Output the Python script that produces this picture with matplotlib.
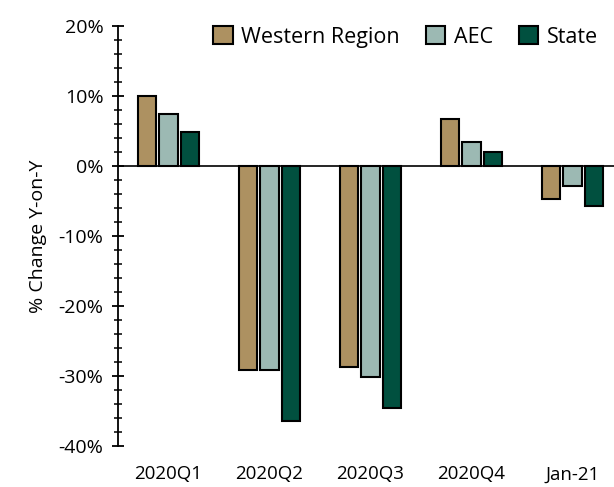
import matplotlib.pyplot as plt
import numpy as np
from matplotlib.ticker import MultipleLocator, FuncFormatter

# Dữ liệu
periods = ['2020Q1', '2020Q2', '2020Q3', '2020Q4', 'Jan-21']
western = [10.0, -29.1, -28.7, 6.7, -4.7]
aec = [7.4, -29.1, -30.1, 3.5, -2.8]
state = [4.8, -36.4, -34.5, 2.0, -5.7]

series = [('Western Region', western, '#AD9161'),
          ('AEC', aec, '#9CB9B3'),
          ('State', state, '#01503F')]

plt.rcParams['font.family'] = ['Open Sans', 'DejaVu Sans']
plt.rcParams['axes.unicode_minus'] = False

fig = plt.figure(figsize=(6.14, 4.87), dpi=100)
ax = fig.add_axes([118/614, 41/487, 505/614, 420/487])

x = np.arange(len(periods))
w = 0.18
for i, (name, vals, color) in enumerate(series):
    ax.bar(x + (i - 1) * 0.21, vals, w, color=color, edgecolor='black',
           linewidth=1.5, label=name, zorder=3)

ax.axhline(0, color='black', linewidth=1.2, zorder=2)
ax.set_xlim(-0.5, 4.5)
ax.set_ylim(-40, 20)
ax.yaxis.set_major_locator(MultipleLocator(10))
ax.yaxis.set_minor_locator(MultipleLocator(2))
ax.yaxis.set_major_formatter(FuncFormatter(lambda v, p: f'{v:.0f}%'))
ax.tick_params(axis='y', which='major', direction='inout', length=9, width=1.3,
               labelsize=14, pad=6)
ax.tick_params(axis='y', which='minor', direction='inout', length=6, width=1.1)
ax.tick_params(axis='x', length=0, labelsize=13.5, pad=14)
ax.set_xticks(x)
ax.set_xticklabels(periods)

for s in ['top', 'right', 'bottom']:
    ax.spines[s].set_visible(False)
ax.spines['left'].set_linewidth(1.3)

ax.set_ylabel('% Change Y-on-Y', fontsize=14, labelpad=8)

ax.legend(loc='center right', bbox_to_anchor=(598/614, 1 - 37/487),
          bbox_transform=fig.transFigure, ncol=3, frameon=False,
          fontsize=15.5, handlelength=0.9, handleheight=0.9, handletextpad=0.4,
          columnspacing=1.2, borderaxespad=0, borderpad=0)

fig.savefig('out.png', dpi=100)
